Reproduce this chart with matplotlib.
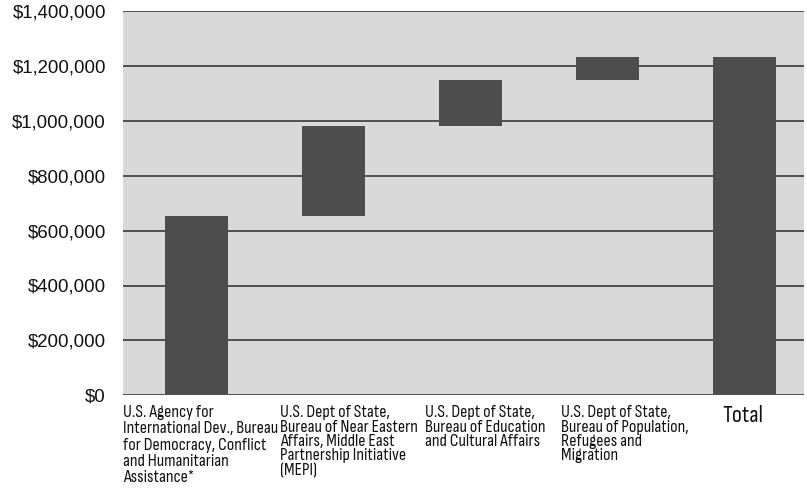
import matplotlib
matplotlib.use("Agg")
import matplotlib.pyplot as plt
import matplotlib.transforms as mtransforms
from matplotlib.ticker import FuncFormatter, MultipleLocator
from matplotlib import font_manager

categories = [
    "U.S. Agency for\nInternational Dev., Bureau\nfor Democracy, Conflict\nand Humanitarian\nAssistance*",
    "U.S. Dept of State,\nBureau of Near Eastern\nAffairs, Middle East\nPartnership Initiative\n(MEPI)",
    "U.S. Dept of State,\nBureau of Education\nand Cultural Affairs",
    "U.S. Dept of State,\nBureau of Population,\nRefugees and\nMigration",
    "Total",
]
increments = [655000, 326000, 166000, 86000]

names = {f.name for f in font_manager.fontManager.ttflist}
narrow = "DejaVu Sans"
for cand in ["Sofia Sans Condensed", "Roboto Condensed", "Liberation Sans Narrow", "Arial Narrow",
             "Archivo Narrow", "PT Sans Narrow"]:
    if cand in names:
        narrow = cand
        break

total = sum(increments)
bottoms, heights = [], []
run = 0
for v in increments:
    bottoms.append(run)
    heights.append(v)
    run += v
bottoms.append(0)
heights.append(total)

fig = plt.figure(figsize=(8.07, 4.91), dpi=100)
ax = fig.add_axes([123/807, 1 - 395.3/491, (804-123)/807, (395.3-11)/491])
ax.set_facecolor("#d9d9d9")

x = list(range(len(categories)))
ax.bar(x, heights, bottom=bottoms, width=0.46, color="#4d4d4d", zorder=3)

ax.set_ylim(0, 1400000)
ax.set_xlim(-0.536, 4.434)
ax.yaxis.set_major_locator(MultipleLocator(200000))
ax.yaxis.set_major_formatter(FuncFormatter(lambda v, p: "${:,.0f}".format(v)))
ax.grid(axis="y", color="#505050", linewidth=1.4, zorder=1)
ax.grid(axis="x", visible=False)
for s in ax.spines.values():
    s.set_visible(False)
ax.tick_params(axis="y", length=0, pad=12.2, labelsize=13.4, labelcolor="#111111")
for lab in ax.get_yticklabels():
    lab.set_fontfamily("Liberation Sans")
ax.set_xticks(x)
ax.set_xticklabels([])
ax.tick_params(axis="x", length=0)

# fit the narrow font size so the widest line of label 1 spans ~155 px
renderer = fig.canvas.get_renderer()
probe = fig.text(0, 0, "International Dev., Bureau", fontsize=12, family=narrow)
w = probe.get_window_extent(renderer).width
probe.remove()
fs = max(8.0, min(15.0, 12 * 155.0 / w))

offsets_px = [-73.5, -53.5, -45.5, -46.5, -1.5]
linesp = [1.1, 0.95, 0.95, 0.95, 1.0]
texts = []
for i, (cat, off, ls) in enumerate(zip(categories, offsets_px, linesp)):
    tr = ax.get_xaxis_transform() + mtransforms.ScaledTranslation(off/100, 0, fig.dpi_scale_trans)
    t = ax.text(i, -0.026, cat, transform=tr, ha="left" if i < 4 else "center", va="top",
                fontsize=fs if i < 4 else fs * 1.35,
                family=[narrow, "DejaVu Sans"], linespacing=ls, color="#111111",
                multialignment="left")
    texts.append(t)

# keep the tallest label inside the figure
t0 = texts[0]
for _ in range(20):
    if t0.get_window_extent(renderer).y0 >= 1.5:
        break
    t0.set_linespacing(t0.get_linespacing() - 0.02)

fig.savefig("out.png", dpi=100)
